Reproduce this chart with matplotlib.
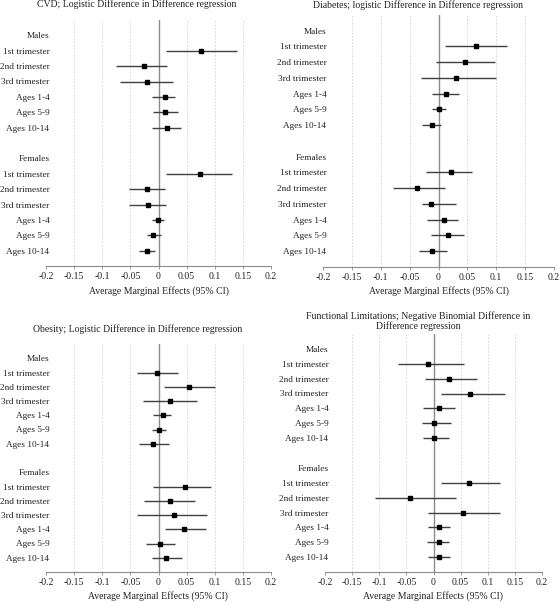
import matplotlib.pyplot as plt
import numpy as np

plt.rcParams['font.family'] = ['Liberation Serif', 'DejaVu Serif']
W, H = 560, 602
GRID = '#d0d0d0'; ZERO = '#8c8c8c'; BAR = '#404040'; FS = 7

groups = ['1st trimester', '2nd trimester', '3rd trimester',
          'Ages 1-4', 'Ages 5-9', 'Ages 10-14']
row_labels = ['Males'] + groups + [''] + ['Females'] + groups
ticks = [-0.2, -0.15, -0.1, -0.05, 0, 0.05, 0.1, 0.15, 0.2]
tick_labels = ['-0.2', '-0.15', '-0.1', '-0.05', '0', '0.05', '0.1', '0.15', '0.2']

# males then females, same order as groups
cvd_est = [0.075, -0.026, -0.020, 0.011, 0.012, 0.015,
           0.074, -0.020, -0.019, -0.001, -0.009, -0.020]
cvd_lo = [0.014, -0.075, -0.068, -0.011, -0.010, -0.011,
          0.014, -0.053, -0.052, -0.011, -0.020, -0.034]
cvd_hi = [0.140, 0.015, 0.026, 0.029, 0.034, 0.040,
          0.130, 0.012, 0.014, 0.010, 0.004, -0.007]

dia_est = [0.065, 0.046, 0.031, 0.013, 0.001, -0.012,
           0.021, -0.038, -0.013, 0.009, 0.017, -0.011]
dia_lo = [0.012, -0.004, -0.031, -0.011, -0.012, -0.028,
          -0.021, -0.078, -0.028, -0.020, -0.013, -0.034]
dia_hi = [0.119, 0.098, 0.099, 0.036, 0.013, 0.004,
          0.058, 0.011, 0.030, 0.034, 0.045, 0.015]

obe_est = [-0.003, 0.055, 0.021, 0.008, 0.001, -0.010,
           0.047, 0.021, 0.028, 0.045, 0.002, 0.014]
obe_lo = [-0.038, 0.009, -0.027, -0.010, -0.012, -0.034,
          -0.010, -0.026, -0.038, 0.012, -0.023, -0.012]
obe_hi = [0.034, 0.100, 0.068, 0.023, 0.014, 0.019,
          0.094, 0.065, 0.087, 0.084, 0.029, 0.041]

fun_est = [-0.010, 0.029, 0.068, 0.011, 0.001, 0.001,
           0.066, -0.044, 0.055, 0.011, 0.010, 0.011]
fun_lo = [-0.065, -0.015, 0.014, -0.020, -0.021, -0.020,
          0.014, -0.108, -0.010, -0.010, -0.012, -0.010]
fun_hi = [0.056, 0.081, 0.132, 0.040, 0.033, 0.028,
          0.122, 0.042, 0.122, 0.031, 0.029, 0.031]

panels = [
    ('CVD; Logistic Difference in Difference regression',
     cvd_est, cvd_lo, cvd_hi, (46, 271, 20, 266), (137, 4), (159, 291)),
    ('Diabetes; logistic Difference in Difference regression',
     dia_est, dia_lo, dia_hi, (323, 554, 15, 267), (418, 5), (439, 291)),
    ('Obesity; Logistic Difference in Difference regression',
     obe_est, obe_lo, obe_hi, (46, 271, 344, 572), (138, 329), (158, 596)),
    ('Functional Limitations; Negative Binomial Difference in\nDifference regression',
     fun_est, fun_lo, fun_hi, (325, 542, 334, 572), (418, 321), (433, 596)),
]

fig = plt.figure(figsize=(W / 100, H / 100), dpi=100, facecolor='white')

for title, est, lo, hi, box, tpos, xpos in panels:
    l, r, t, b = box
    ax = fig.add_axes([l / W, 1 - b / H, (r - l) / W, (b - t) / H])
    ax.set_xlim(-0.2, 0.2); ax.set_ylim(15, -1)
    ys = [1, 2, 3, 4, 5, 6, 9, 10, 11, 12, 13, 14]
    for x in ticks[1:-1]:
        if x == 0:
            continue
        ax.axvline(x, color=GRID, lw=0.6, ls=(0, (2, 2)), zorder=0)
    ax.axvline(0, color=ZERO, lw=1.0, zorder=1)
    est = np.array(est); lo = np.array(lo); hi = np.array(hi)
    ax.hlines(ys, lo, hi, color=BAR, lw=1.0, zorder=2)
    ax.plot(est, ys, 's', color='black', ms=2.6, zorder=3)
    ax.set_yticks(range(15))
    ax.set_yticklabels(row_labels, fontsize=6.7, color='#222222')
    ax.tick_params(axis='y', length=0, pad=-2.5)
    ax.set_xticks(ticks)
    ax.set_xticklabels(tick_labels, fontsize=FS, color='#222222')
    ax.tick_params(axis='x', length=2, color=ZERO, width=0.6, pad=2)
    for s in ['top', 'right', 'left']:
        ax.spines[s].set_visible(False)
    ax.spines['bottom'].set_color(ZERO)
    ax.spines['bottom'].set_linewidth(0.8)
    ax.set_facecolor('none')
    fig.text(tpos[0] / W, 1 - tpos[1] / H, title, ha='center', va='center',
             fontsize=FS, color='#222222', linespacing=1.1)
    fig.text(xpos[0] / W, 1 - xpos[1] / H, 'Average Marginal Effects (95% CI)',
             ha='center', va='center', fontsize=FS, color='#222222')

plt.savefig('out.png', dpi=100, facecolor='white')
plt.close()
